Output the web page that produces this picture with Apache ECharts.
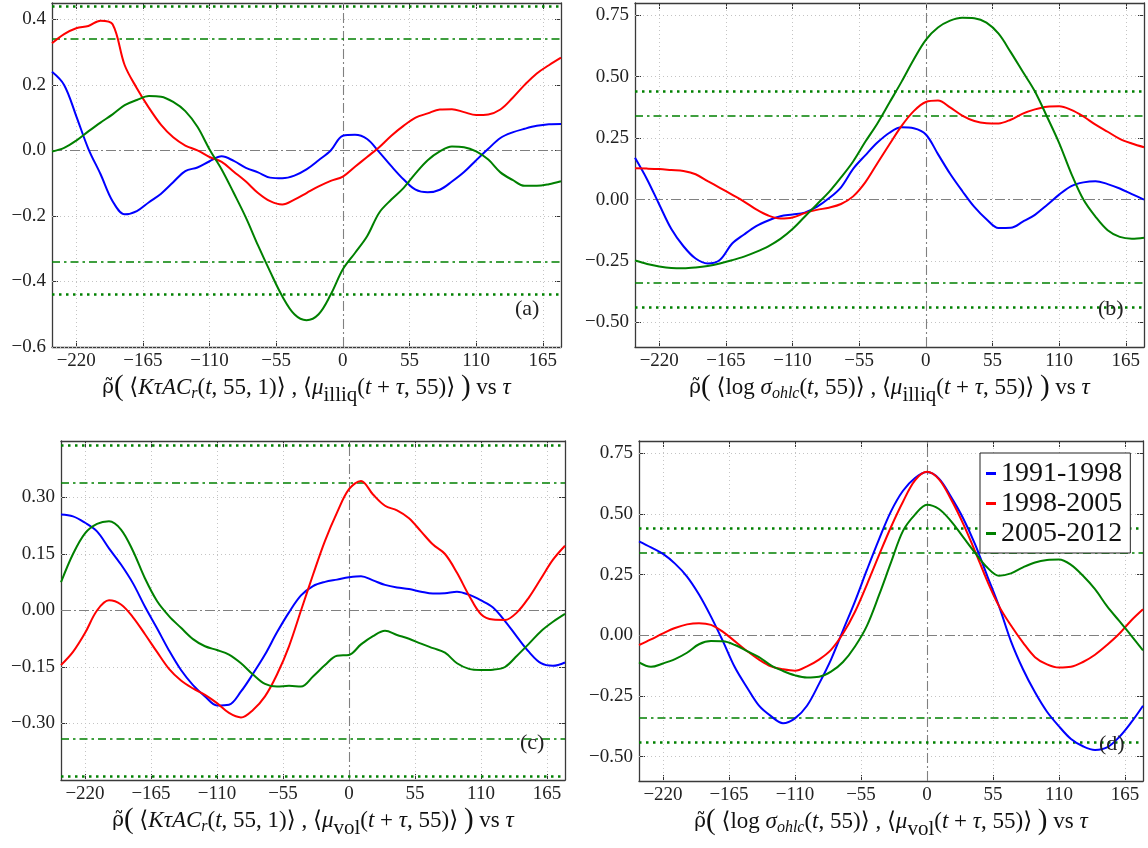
<!DOCTYPE html>
<html><head><meta charset="utf-8">
<script src="https://cdn.jsdelivr.net/npm/echarts@6.0.0/dist/echarts.min.js"></script>
<style>html,body{margin:0;padding:0;background:#fff}#c{width:1148px;height:848px}</style>
</head><body><div id="c"></div>
<script>
// ---------- data ----------
const tau = [-240,-230,-220,-210,-200,-190,-180,-170,-160,-150,-140,-130,-120,-110,-100,-90,-80,-70,-60,-50,-40,-30,-20,-10,0,10,20,30,40,50,60,70,80,90,100,110,120,130,140,150,160,170,180];
const periods = ['1991-1998','1998-2005','2005-2012'];
const xTicks = [-220,-165,-110,-55,0,55,110,165];
const yTicksA = [-0.6,-0.4,-0.2,0,0.2,0.4];
const yTicksB = [-0.5,-0.25,0,0.25,0.5,0.75];
const yTicksC = [-0.3,-0.15,0,0.15,0.3];
const yTicksD = [-0.5,-0.25,0,0.25,0.5,0.75];
const thrDot = 0.438;
const thrDash = 0.344;

const aBlue  = [0.24,0.2,0.105,0.005,-0.072,-0.155,-0.195,-0.185,-0.158,-0.132,-0.097,-0.063,-0.052,-0.033,-0.018,-0.032,-0.053,-0.067,-0.083,-0.085,-0.077,-0.058,-0.03,0.0,0.045,0.048,0.035,-0.005,-0.048,-0.088,-0.12,-0.128,-0.12,-0.095,-0.066,-0.03,0.005,0.038,0.055,0.066,0.075,0.08,0.081];
const aRed   = [0.327,0.355,0.373,0.38,0.396,0.385,0.26,0.19,0.13,0.078,0.04,0.015,0.0,-0.02,-0.035,-0.065,-0.095,-0.13,-0.155,-0.165,-0.15,-0.13,-0.11,-0.093,-0.08,-0.05,-0.02,0.01,0.045,0.075,0.1,0.113,0.125,0.126,0.117,0.108,0.11,0.125,0.16,0.2,0.235,0.26,0.283];
const aGreen = [-0.003,0.008,0.03,0.058,0.085,0.11,0.138,0.154,0.166,0.164,0.148,0.12,0.072,0.003,-0.058,-0.13,-0.205,-0.29,-0.37,-0.445,-0.5,-0.518,-0.5,-0.44,-0.363,-0.313,-0.262,-0.19,-0.15,-0.115,-0.07,-0.03,-0.003,0.012,0.01,-0.003,-0.028,-0.067,-0.09,-0.108,-0.108,-0.103,-0.094];

const bBlue  = [0.17,0.082,-0.02,-0.12,-0.19,-0.24,-0.26,-0.246,-0.18,-0.142,-0.108,-0.085,-0.068,-0.061,-0.053,-0.03,0.005,0.05,0.125,0.18,0.232,0.272,0.294,0.29,0.265,0.185,0.105,0.035,-0.03,-0.08,-0.116,-0.115,-0.09,-0.062,-0.022,0.02,0.055,0.07,0.075,0.063,0.045,0.022,0.0];
const bRed   = [0.127,0.126,0.124,0.12,0.116,0.103,0.075,0.048,0.02,-0.008,-0.04,-0.065,-0.077,-0.073,-0.055,-0.042,-0.033,-0.018,0.013,0.07,0.148,0.225,0.3,0.36,0.397,0.403,0.375,0.342,0.32,0.311,0.31,0.325,0.35,0.367,0.378,0.38,0.365,0.338,0.305,0.276,0.247,0.228,0.213];
const bGreen = [-0.248,-0.262,-0.272,-0.278,-0.279,-0.276,-0.27,-0.26,-0.247,-0.232,-0.213,-0.19,-0.16,-0.12,-0.07,-0.02,0.03,0.09,0.155,0.235,0.31,0.395,0.48,0.57,0.65,0.7,0.728,0.74,0.738,0.72,0.675,0.6,0.52,0.44,0.337,0.23,0.106,0.0,-0.07,-0.125,-0.152,-0.159,-0.155];

const cBlue  = [0.255,0.25,0.233,0.21,0.165,0.122,0.072,0.01,-0.047,-0.106,-0.158,-0.198,-0.228,-0.252,-0.25,-0.215,-0.168,-0.117,-0.058,-0.005,0.04,0.065,0.076,0.082,0.088,0.091,0.08,0.068,0.061,0.057,0.05,0.045,0.046,0.05,0.042,0.027,0.008,-0.028,-0.07,-0.11,-0.14,-0.147,-0.138];
const cRed   = [-0.145,-0.11,-0.06,0.0,0.027,0.016,-0.018,-0.063,-0.11,-0.155,-0.186,-0.207,-0.224,-0.246,-0.272,-0.284,-0.264,-0.228,-0.17,-0.095,0.0,0.095,0.185,0.26,0.322,0.344,0.308,0.278,0.266,0.245,0.21,0.175,0.15,0.1,0.04,-0.01,-0.024,-0.025,-0.005,0.035,0.085,0.135,0.172];
const cGreen = [0.075,0.15,0.205,0.23,0.237,0.215,0.158,0.085,0.025,-0.015,-0.046,-0.076,-0.095,-0.105,-0.117,-0.14,-0.17,-0.195,-0.202,-0.2,-0.202,-0.175,-0.145,-0.12,-0.118,-0.09,-0.068,-0.054,-0.065,-0.075,-0.088,-0.1,-0.112,-0.14,-0.155,-0.158,-0.157,-0.15,-0.12,-0.088,-0.055,-0.03,-0.009];

const dBlue  = [0.387,0.362,0.335,0.295,0.242,0.168,0.077,-0.025,-0.133,-0.215,-0.29,-0.333,-0.362,-0.342,-0.29,-0.2,-0.1,0.02,0.14,0.27,0.395,0.51,0.595,0.648,0.672,0.645,0.57,0.483,0.375,0.247,0.12,-0.025,-0.14,-0.235,-0.315,-0.375,-0.427,-0.457,-0.472,-0.462,-0.42,-0.36,-0.29];
const dRed   = [-0.04,-0.017,0.008,0.03,0.045,0.05,0.043,0.014,-0.025,-0.065,-0.1,-0.128,-0.14,-0.146,-0.128,-0.1,-0.06,0.007,0.097,0.21,0.33,0.446,0.55,0.638,0.673,0.642,0.56,0.461,0.347,0.226,0.12,0.04,-0.03,-0.09,-0.12,-0.133,-0.13,-0.11,-0.08,-0.04,0.005,0.06,0.107];
const dGreen = [-0.112,-0.13,-0.116,-0.098,-0.072,-0.037,-0.024,-0.025,-0.04,-0.065,-0.09,-0.124,-0.147,-0.165,-0.174,-0.171,-0.15,-0.11,-0.046,0.04,0.165,0.3,0.43,0.497,0.538,0.52,0.47,0.405,0.34,0.28,0.245,0.255,0.28,0.3,0.31,0.312,0.29,0.245,0.19,0.12,0.06,0.0,-0.062];

// ---------- layout / style ----------
const serif = '"Liberation Serif","DejaVu Serif",serif';
const colors = ['#0000ff','#ff0000','#008000'];
const panels = [
  {grid:{left:52,top:3,width:509,height:344},  yMin:-0.6, yMax:0.45, yTicks:yTicksA, dec:1, series:[aBlue,aRed,aGreen],
   name:'{rt|ρ̃}{p|(}{n| ⟨}{i|KτAC}{si|r}{n|(}{i|t}{n|, 55, 1)⟩ , ⟨}{i|μ}{sr|illiq}{n|(}{i|t}{n| + }{i|τ}{n|, 55)⟩ }{p|)}{n| vs }{i|τ}',
   tag:'(a)', tagPos:[515,298]},
  {grid:{left:635,top:3,width:509,height:344}, yMin:-0.6, yMax:0.8, yTicks:yTicksB, dec:2, series:[bBlue,bRed,bGreen],
   name:'{rt|ρ̃}{p|(}{n| ⟨log }{i|σ}{si|ohlc}{n|(}{i|t}{n|, 55)⟩ , ⟨}{i|μ}{sr|illiq}{n|(}{i|t}{n| + }{i|τ}{n|, 55)⟩ }{p|)}{n| vs }{i|τ}',
   tag:'(b)', tagPos:[1098,298]},
  {grid:{left:61,top:441,width:504,height:339}, yMin:-0.45, yMax:0.45, yTicks:yTicksC, dec:2, series:[cBlue,cRed,cGreen],
   name:'{rt|ρ̃}{p|(}{n| ⟨}{i|KτAC}{si|r}{n|(}{i|t}{n|, 55, 1)⟩ , ⟨}{i|μ}{sr|vol}{n|(}{i|t}{n| + }{i|τ}{n|, 55)⟩ }{p|)}{n| vs }{i|τ}',
   tag:'(c)', tagPos:[520,732]},
  {grid:{left:639,top:441,width:504,height:340}, yMin:-0.6, yMax:0.8, yTicks:yTicksD, dec:2, series:[dBlue,dRed,dGreen],
   name:'{rt|ρ̃}{p|(}{n| ⟨log }{i|σ}{si|ohlc}{n|(}{i|t}{n|, 55)⟩ , ⟨}{i|μ}{sr|vol}{n|(}{i|t}{n| + }{i|τ}{n|, 55)⟩ }{p|)}{n| vs }{i|τ}',
   tag:'(d)', tagPos:[1099,733]}
];
const rich = {
  n:{fontFamily:serif,fontSize:23,color:'#111'},
  i:{fontFamily:serif,fontSize:23,fontStyle:'italic',color:'#111'},
  rt:{fontFamily:'"DejaVu Serif",serif',fontSize:20,color:'#111'},
  p:{fontFamily:serif,fontSize:29,color:'#111'},
  si:{fontFamily:serif,fontSize:16,fontStyle:'italic',color:'#111',padding:[12,0,0,0]},
  sr:{fontFamily:serif,fontSize:21,color:'#111',padding:[16,0,0,0]}
};
const minus = v => (v < 0 ? '\u2212' : '') + Math.abs(v);
const axisLine = {show:true, onZero:false, lineStyle:{color:'#3a3a3a', width:1.3}};
const tickStyle = {color:'#333', width:1};
const labelStyle = {fontFamily:serif, fontSize:19, color:'#222'};

const grid = [], xAxis = [], yAxis = [], series = [], graphic = [];
panels.forEach((p, i) => {
  grid.push(Object.assign({show:false, outerBoundsMode:'none', containLabel:false}, p.grid));
  xAxis.push({type:'value', gridIndex:i, min:-240, max:180, position:'bottom', axisLine,
    axisTick:{show:true, inside:true, length:6, customValues:xTicks, lineStyle:tickStyle},
    axisLabel:{show:true, customValues:xTicks, formatter:v => minus(v), margin:5, ...labelStyle},
    splitLine:{show:false},
    name:p.name, nameLocation:'middle', nameGap:22,
    nameTextStyle:{fontFamily:serif, fontSize:23, color:'#111', rich}});
  xAxis.push({type:'value', gridIndex:i, min:-240, max:180, position:'top', axisLine,
    axisTick:{show:true, inside:true, length:6, customValues:xTicks, lineStyle:tickStyle},
    axisLabel:{show:false}, splitLine:{show:false}});
  yAxis.push({type:'value', gridIndex:i, min:p.yMin, max:p.yMax, position:'left', axisLine,
    axisTick:{show:true, inside:true, length:6, customValues:p.yTicks, lineStyle:tickStyle},
    axisLabel:{show:true, customValues:p.yTicks, margin:6,
      formatter:v => (v < -1e-9 ? '\u2212' : '') + Math.abs(v).toFixed(p.dec), ...labelStyle},
    splitLine:{show:false}});
  yAxis.push({type:'value', gridIndex:i, min:p.yMin, max:p.yMax, position:'right', axisLine,
    axisTick:{show:true, inside:true, length:6, customValues:p.yTicks, lineStyle:tickStyle},
    axisLabel:{show:false}, splitLine:{show:false}});

  const gridDot = {color:'#c4c4c4', width:1, type:[1,3]};
  const zeroLine = {color:'#808080', width:1.1, type:[10,3,2,3]};
  const dotG = {color:'#008000', width:2.5, type:[2.5,4.5]};
  const dashG = {color:'#008000', width:1.7, type:[8,4,2.5,4]};
  const ml = [];
  xTicks.filter(v => v !== 0).forEach(v => ml.push({xAxis:v, lineStyle:gridDot}));
  p.yTicks.filter(v => v !== 0).forEach(v => ml.push({yAxis:v, lineStyle:gridDot}));
  ml.push({xAxis:0, lineStyle:zeroLine});
  ml.push({yAxis:0, lineStyle:zeroLine});
  [thrDot, -thrDot].forEach(v => ml.push({yAxis:v, lineStyle:dotG}));
  [thrDash, -thrDash].forEach(v => ml.push({yAxis:v, lineStyle:dashG}));
  series.push({type:'line', name:'_ref'+i, xAxisIndex:2*i, yAxisIndex:2*i, data:[], silent:true, z:1,
    markLine:{silent:true, z:1, symbol:['none','none'], label:{show:false}, animation:false, data:ml}});

  p.series.forEach((vals, k) => {
    series.push({type:'line', name:periods[k], xAxisIndex:2*i, yAxisIndex:2*i,
      data:tau.map((t, j) => [t, vals[j]]), showSymbol:false, symbol:'none', smooth:0.35,
      lineStyle:{color:colors[k], width:2}, itemStyle:{color:colors[k]}, z:2});
  });

  graphic.push({type:'text', left:p.tagPos[0], top:p.tagPos[1], z:10,
    style:{text:p.tag, font:'22px ' + serif, fill:'#222'}});
});

const chart = echarts.init(document.getElementById('c'), null, {renderer:'canvas'});
chart.setOption({
  animation:false,
  backgroundColor:'#ffffff',
  grid, xAxis, yAxis, series, graphic,
  legend:{data:periods, left:980, top:453, orient:'vertical', backgroundColor:'#fff',
    borderColor:'#222', borderWidth:1, borderRadius:0, padding:[6,8,5,6], itemGap:1,
    itemWidth:10, itemHeight:3, icon:'rect', selectedMode:false, z:6,
    textStyle:{fontFamily:serif, fontSize:28, color:'#111', lineHeight:29}}
});
</script>
</body></html>
